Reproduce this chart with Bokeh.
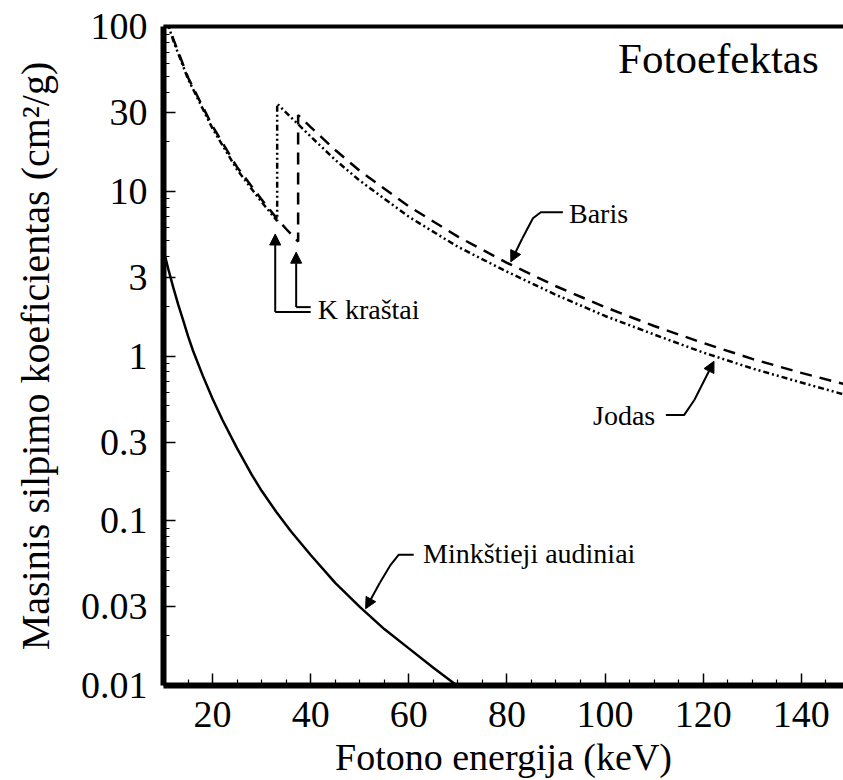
import numpy as np
from bokeh.plotting import figure
from bokeh.models import (Range1d, LinearAxis, FixedTicker, CustomJSTickFormatter,
                          Arrow, NormalHead, Label)
from bokeh.embed import file_html
from bokeh.resources import INLINE

# ---------------- data ----------------
energy_jodas = [10.5, 12, 15, 20, 25, 30, 33.17, 33.17, 35, 40, 45, 50, 60, 70, 80, 90, 100, 110, 120, 130, 140, 150]
mu_jodas = [112, 82, 48, 24, 13.5, 8.6, 6.6, 34, 30, 21.5, 15.5, 11.6, 7.0, 4.6, 3.25, 2.35, 1.75, 1.35, 1.05, 0.84, 0.69, 0.57]

energy_baris = [10.5, 12, 15, 20, 25, 30, 33.17, 35, 37.44, 37.44, 40, 45, 50, 60, 70, 80, 90, 100, 110, 120, 130, 140, 150]
mu_baris = [114, 84, 49, 24.8, 14, 8.9, 6.8, 5.9, 4.95, 29, 24.5, 17.8, 13.3, 8.1, 5.3, 3.68, 2.65, 1.98, 1.52, 1.2, 0.96, 0.79, 0.66]

energy_audiniai = [10, 11, 12, 13, 14, 15, 16, 18, 20, 22, 25, 28, 30, 33, 36, 40, 45, 50, 55, 60, 65, 70]
mu_audiniai = [4.4, 3.35, 2.6, 2.05, 1.65, 1.32, 1.08, 0.76, 0.55, 0.41, 0.275, 0.19, 0.152, 0.113, 0.086, 0.062, 0.042, 0.030, 0.022, 0.0168, 0.0128, 0.0099]

k_edges = [33.17, 37.44]

x_major_ticks = [20, 40, 60, 80, 100, 120, 140]
x_minor_ticks = [15, 25, 30, 35, 45, 50, 55, 65, 70, 75, 85, 90, 95, 105, 110, 115, 125, 130, 135, 145]
y_major_ticks = [0.01, 0.03, 0.1, 0.3, 1, 3, 10, 30, 100]
y_tick_labels = ["0.01", "0.03", "0.1", "0.3", "1", "3", "10", "30", "100"]
y_minor_ticks = [m * d for d in (0.01, 0.1, 1, 10) for m in (2, 4, 5, 6, 7, 8, 9)]

x_label = "Fotono energija (keV)"
y_label = "Masinis silpimo koeficientas (cm²/g)"
title_text = "Fotoefektas"

FONT = "'Liberation Serif', 'Times New Roman', serif"

# ---------------- figure ----------------
p = figure(width=843, height=780, x_range=Range1d(10, 148.6), y_range=Range1d(0.01, 100),
           y_axis_type="log", output_backend="svg", toolbar_location=None,
           min_border_left=163, min_border_right=0, min_border_top=26, min_border_bottom=94)
p.outline_line_color = None
p.grid.visible = False
p.background_fill_color = "white"
p.border_fill_color = "white"

xa = p.xaxis[0]
ya = p.yaxis[0]
xa.ticker = FixedTicker(ticks=x_major_ticks, minor_ticks=x_minor_ticks)
ya.ticker = FixedTicker(ticks=y_major_ticks, minor_ticks=y_minor_ticks)
ya.formatter = CustomJSTickFormatter(args=dict(vals=y_major_ticks, labs=y_tick_labels), code="""
let best = 0, bd = Infinity;
for (let i = 0; i < vals.length; i++) {
  const d = Math.abs(Math.log(tick) - Math.log(vals[i]));
  if (d < bd) { bd = d; best = i; }
}
return labs[best];
""")
for ax in (xa, ya):
    ax.axis_line_width = 6
    ax.axis_line_color = "black"
    ax.major_tick_in = 12
    ax.major_tick_out = 0
    ax.minor_tick_in = 6
    ax.minor_tick_out = 0
    ax.major_tick_line_width = 1.5
    ax.minor_tick_line_width = 1.2
    ax.major_tick_line_color = "black"
    ax.minor_tick_line_color = "black"
    ax.major_label_text_font = FONT
    ax.major_label_text_font_size = "38px"
    ax.major_label_text_color = "black"
    ax.axis_label_text_font = FONT
    ax.axis_label_text_font_style = "normal"
    ax.axis_label_text_color = "black"

xa.axis_label_text_font_size = "38px"
ya.axis_label_text_font_size = "40px"
xa.axis_label = x_label
ya.axis_label = y_label
xa.major_label_standoff = 16
xa.axis_label_standoff = 6
ya.major_label_standoff = 16
ya.axis_label_standoff = 20

top_axis = LinearAxis(ticker=FixedTicker(ticks=[]), axis_line_width=4, axis_line_color="black",
                      major_tick_in=0, major_tick_out=0, minor_tick_in=0, minor_tick_out=0,
                      major_label_text_font_size="0px")
p.add_layout(top_axis, "above")

# ---------------- curves ----------------
p.line(energy_jodas, mu_jodas, line_color="black", line_width=2.5, line_dash="6 3 2 3 2 3")
p.line(energy_baris, mu_baris, line_color="black", line_width=2.5, line_dash="12 8")
p.line(energy_audiniai, mu_audiniai, line_color="black", line_width=2.5)


def logi(xq, xs, ys):
    return float(10 ** np.interp(xq, xs, np.log10(ys)))

# ---------------- annotations ----------------
def txt(x, y, s, size=28):
    p.add_layout(Label(x=x, y=y, text=s, text_font=FONT, text_font_size=f"{size}px",
                       text_color="black", text_baseline="alphabetic", text_align="left",
                       y_offset=round(0.33 * size)))

def arrow(x0, y0, x1, y1):
    p.add_layout(Arrow(end=NormalHead(size=11, fill_color="black", line_color="black", line_width=1),
                       x_start=x0, y_start=y0, x_end=x1, y_end=y1,
                       line_color="black", line_width=2))

txt(102.65, 52.6, title_text, size=43)

tip_i = mu_jodas[energy_jodas.index(k_edges[0])] / 1.2
tip_b = mu_baris[energy_baris.index(k_edges[1])] / 1.16
p.line([40.0, k_edges[0] - 0.4, k_edges[0] - 0.4], [1.85, 1.85, 1.85], line_color="black", line_width=2)
p.line([40.0, k_edges[1] - 0.4], [1.98, 1.98], line_color="black", line_width=2)
arrow(k_edges[0] - 0.4, 1.85, k_edges[0] - 0.4, tip_i)
arrow(k_edges[1] - 0.4, 1.98, k_edges[1] - 0.4, tip_b)
txt(41.43, 1.70, "K kraštai")

eb = 80.8
p.line([91.4, 86.9, 85.3, 83.1], [7.46, 7.46, 6.85, 5.15], line_color="black", line_width=2)
arrow(83.1, 5.15, eb, logi(eb, energy_baris[9:], mu_baris[9:]) * 1.04)
txt(92.65, 6.49, "Baris")

ej = 122.2
p.line([112.4, 116.1, 118.2], [0.438, 0.438, 0.541], line_color="black", line_width=2)
arrow(118.2, 0.541, ej, logi(ej, energy_jodas[7:], mu_jodas[7:]) * 0.93)
txt(97.55, 0.382, "Jodas")

ea = 51.2
p.line([61.0, 57.96, 56.3, 54.1], [0.0622, 0.0622, 0.054, 0.0421], line_color="black", line_width=2)
arrow(54.1, 0.0421, ea, logi(ea, energy_audiniai, mu_audiniai) * 1.05)
txt(62.9, 0.0556, "Minkštieji audiniai")

open("out.html", "w").write(file_html(p, INLINE))
